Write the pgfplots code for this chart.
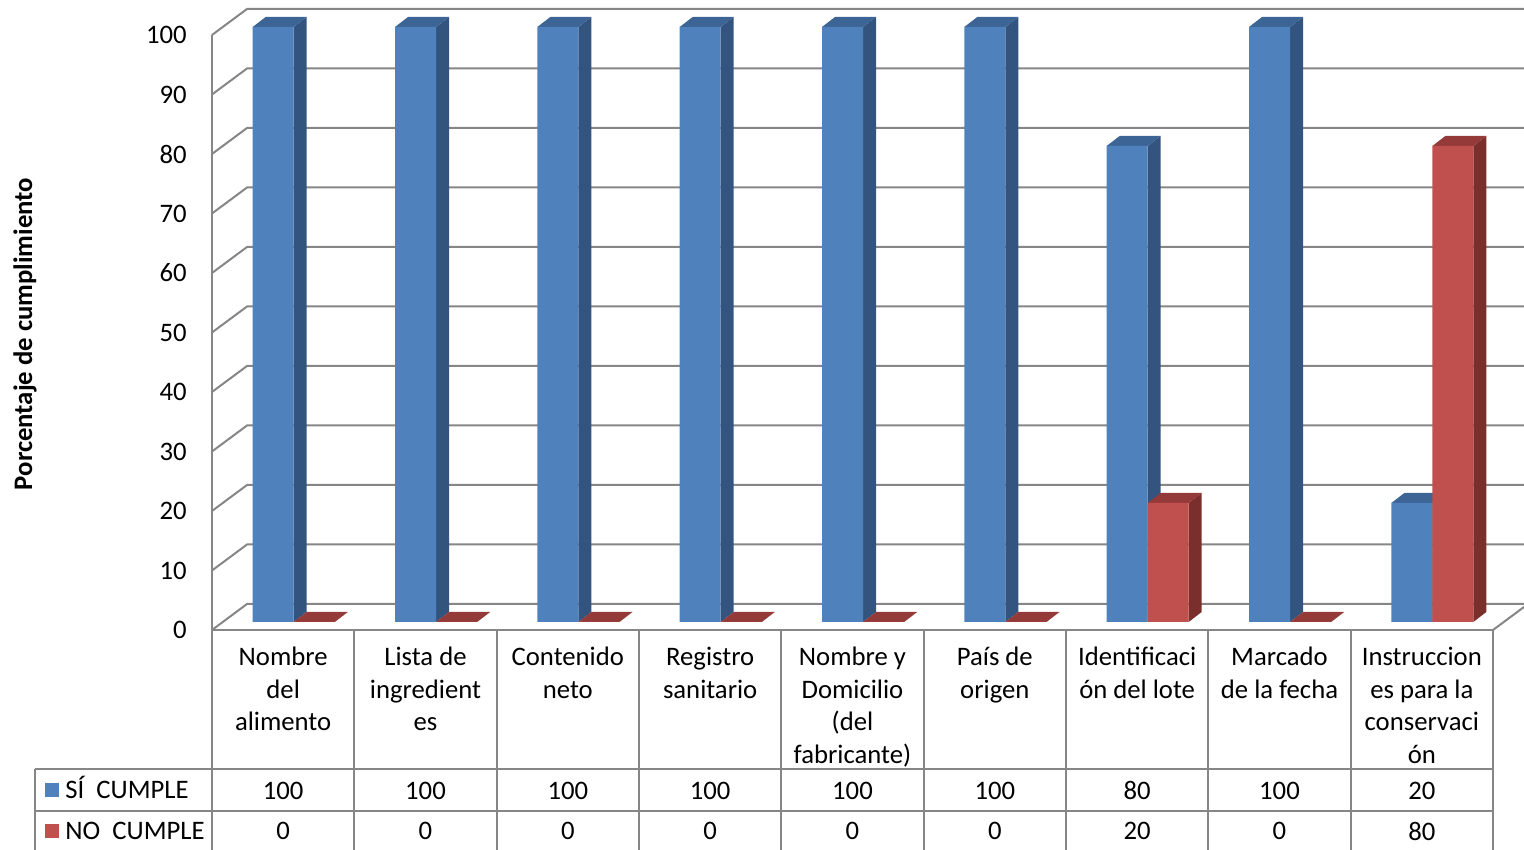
\documentclass[border=0pt]{standalone}
\usepackage{fontspec}
\setmainfont{Carlito}
\usepackage{pgfplots}
\usepackage{pgfplotstable}
\pgfplotsset{compat=1.18}

% one picture unit
\newdimen\px \px=0.5pt

\definecolor{azulF}{HTML}{4F81BD}
\definecolor{azulL}{HTML}{33547F}
\definecolor{azulT}{HTML}{3C6495}
\definecolor{rojoF}{HTML}{C0504D}
\definecolor{rojoL}{HTML}{7B2F2D}
\definecolor{rojoT}{HTML}{943A38}
\definecolor{rejilla}{HTML}{868686}

% percentage of labels that comply / do not comply, per item
\pgfplotstableread{
idx si  no
0   100 0
1   100 0
2   100 0
3   100 0
4   100 0
5   100 0
6   80  20
7   100 0
8   20  80
}\datos

% depth of the bars in axis units (13 px across, 10 px up)
\def\dx{0.09134}
\def\dy{1.6807}
\def\bw{0.28806}

\begin{document}
\fontsize{13.35}{16.25}\selectfont
\begin{tikzpicture}[x=\px,y=\px]

% walls: gridlines on the side and back wall
\foreach \v in {0,10,...,100} {
  \draw[rejilla, line width=2\px] (212,{220+5.95*\v}) -- (247,{246+5.95*\v}) -- (1532,{246+5.95*\v});
}
\draw[rejilla, line width=2\px] (212,815) -- (212,220);
\draw[rejilla, line width=2\px] (1493,220) -- (1532,249);

% data table grid
\foreach \k in {0,...,9} {
  \draw[rejilla, line width=2\px] ({212+142.33*\k},220) -- ({212+142.33*\k},0);
}
\draw[rejilla, line width=2\px] (212,220) -- (1493,220);
\draw[rejilla, line width=2\px] (35,81) -- (1493,81);
\draw[rejilla, line width=2\px] (35,39) -- (1493,39);
\draw[rejilla, line width=2\px] (35,81) -- (35,0);

% series keys in the table
\fill[azulF] (45,53) rectangle (59,67);
\fill[rojoF] (45,12) rectangle (59,26);
\node[anchor=base west, inner sep=0pt] at (65,51.5) {SÍ~~CUMPLE};
\node[anchor=base west, inner sep=0pt] at (65,10.5) {NO~~CUMPLE};

\begin{axis}[
  x=142.33\px, y=5.95\px,
  xmin=-0.5, xmax=8.5, ymin=0, ymax=100,
  at={(222.5\px,228\px)}, anchor=south west,
  clip=false,
  axis line style={draw=none},
  major tick style={draw=none},
  ytick={0,10,...,100},
  yticklabel style={anchor=east, inner sep=0pt, xshift=-35.5\px, yshift=-8\px},
  /pgf/number format/assume math mode=true,
  xtick={0,...,8},
  xticklabels={{Nombre\\del\\alimento},{Lista de\\ingredient\\es},{Contenido\\neto},
    {Registro\\sanitario},{Nombre y\\Domicilio\\(del\\fabricante)},{País de\\origen},
    {Identificaci\\ón del lote},{Marcado\\de la fecha},{Instruccion\\es para la\\conservaci\\ón}},
  xticklabel style={anchor=north, align=center, inner sep=0pt, xshift=-10.5\px, yshift=-25\px},
  ylabel={Porcentaje de cumplimiento},
  every axis y label/.style={shift={(-197.5\px,0pt)}, at={(rel axis cs:0,0.484)},
    rotate=90, anchor=center, font=\bfseries},
]

% side and top faces of the blue bars
\pgfplotsinvokeforeach{0,...,8}{
  \pgfplotstablegetelem{#1}{si}\of\datos
  \pgfmathsetmacro\v{\pgfplotsretval}
  \pgfmathsetmacro\vd{\v+\dy}
  \pgfmathsetmacro\xl{#1-\bw}
  \pgfmathsetmacro\xld{#1-\bw+\dx}
  \pgfmathsetmacro\xcd{#1+\dx}
  \edef\caras{%
    \noexpand\addplot[fill=azulL, draw=none, forget plot] coordinates
      {(#1,0) (\xcd,\dy) (\xcd,\vd) (#1,\v)} -- cycle;
    \noexpand\addplot[fill=azulT, draw=none, forget plot] coordinates
      {(\xl,\v) (#1,\v) (\xcd,\vd) (\xld,\vd)} -- cycle;
  }\caras
}
\addplot[ybar, bar width=41\px, bar shift=-20.5\px, fill=azulF, draw=none]
  table[x=idx, y=si] {\datos};

% side and top faces of the red bars
\pgfplotsinvokeforeach{0,...,8}{
  \pgfplotstablegetelem{#1}{no}\of\datos
  \pgfmathsetmacro\v{\pgfplotsretval}
  \pgfmathsetmacro\vd{\v+\dy}
  \pgfmathsetmacro\xr{#1+\bw}
  \pgfmathsetmacro\xrd{#1+\bw+\dx}
  \pgfmathsetmacro\xcd{#1+\dx}
  \edef\caras{%
    \noexpand\addplot[fill=rojoL, draw=none, forget plot] coordinates
      {(\xr,0) (\xrd,\dy) (\xrd,\vd) (\xr,\v)} -- cycle;
    \noexpand\addplot[fill=rojoT, draw=none, forget plot] coordinates
      {(#1,\v) (\xr,\v) (\xrd,\vd) (\xcd,\vd)} -- cycle;
  }\caras
}
\addplot[ybar, bar width=41\px, bar shift=20.5\px, fill=rojoF, draw=none]
  table[x=idx, y=no] {\datos};

% values in the data table
\pgfplotsinvokeforeach{0,...,8}{
  \pgfplotstablegetelem{#1}{si}\of\datos
  \edef\celda{\noexpand\node[inner sep=0pt, xshift=-10.5\px, yshift=-168.5\px]
    at (axis cs:#1,0) {\pgfplotsretval};}\celda
  \pgfplotstablegetelem{#1}{no}\of\datos
  \edef\celda{\noexpand\node[inner sep=0pt, xshift=-10.5\px, yshift=-209\px]
    at (axis cs:#1,0) {\pgfplotsretval};}\celda
}
\end{axis}

\pgfresetboundingbox
\useasboundingbox (0,0) rectangle (1524,850);
\end{tikzpicture}
\end{document}
